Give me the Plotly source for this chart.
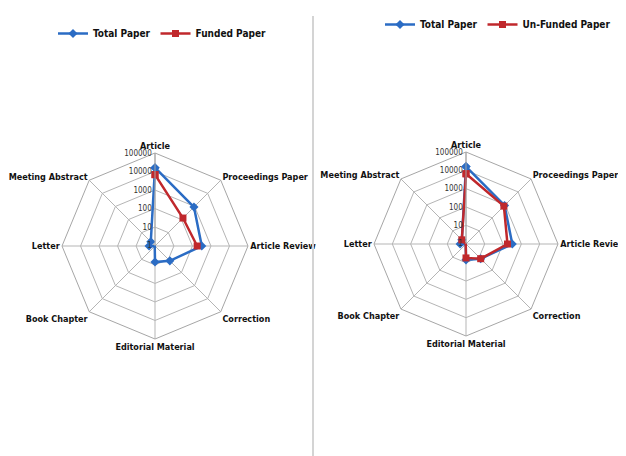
import plotly.graph_objects as go

categories = ["Article", "Proceedings Paper", "Article Review", "Correction",
              "Editorial Material", "Book Chapter", "Letter", "Meeting Abstract"]
total_paper = [16000, 900, 320, 13, 7, 1, 2, 2]
funded_paper = [6800, 130, 180, None, None, None, None, None]
unfunded_paper = [6500, 800, 175, 13, 5.5, 1, 1, 2]
radial_ticks = [1, 10, 100, 1000, 10000, 100000]
radial_tick_labels = ["1", "10", "100", "1000", "10000", "100000"]

BLUE = "#2B6CC4"
RED = "#C0282C"
FONT = "DejaVu Sans Condensed, Liberation Sans Narrow, Roboto, sans-serif"
W, H = 626, 456


def closed(v):
    return list(v) + [v[0]]


theta = closed(categories)

fig = go.Figure()
fig.add_trace(go.Scatterpolar(r=closed(total_paper), theta=theta, name="Total Paper",
                              mode="lines+markers", line=dict(color=BLUE, width=2.5),
                              marker=dict(symbol="diamond", size=7, color=BLUE),
                              subplot="polar", legend="legend"))
fig.add_trace(go.Scatterpolar(r=closed(funded_paper), theta=theta, name="Funded Paper",
                              mode="lines+markers", line=dict(color=RED, width=2.5),
                              marker=dict(symbol="square", size=7, color=RED),
                              subplot="polar", legend="legend"))
fig.add_trace(go.Scatterpolar(r=closed(total_paper), theta=theta, name="Total Paper",
                              mode="lines+markers", line=dict(color=BLUE, width=2.5),
                              marker=dict(symbol="diamond", size=7, color=BLUE),
                              subplot="polar2", legend="legend2"))
fig.add_trace(go.Scatterpolar(r=closed(unfunded_paper), theta=theta, name="Un-Funded Paper",
                              mode="lines+markers", line=dict(color=RED, width=2.5),
                              marker=dict(symbol="square", size=7, color=RED),
                              subplot="polar2", legend="legend2"))


def domain(cx, cy, R):
    return dict(x=[(cx - R) / W, (cx + R) / W], y=[1 - (cy + R) / H, 1 - (cy - R) / H])


def polar_cfg(cx, cy, R):
    return dict(
        domain=domain(cx, cy, R),
        gridshape="linear",
        bgcolor="white",
        angularaxis=dict(direction="clockwise", rotation=90, type="category",
                         categoryorder="array", categoryarray=categories,
                         showline=True, linecolor="#a6a6a6", linewidth=1,
                         gridcolor="#b5b5b5", ticks="",
                         tickfont=dict(family=FONT, size=9, color="#111", weight="bold")),
        radialaxis=dict(type="log", range=[-0.02, 5], tickvals=radial_ticks, ticktext=radial_tick_labels,
                        angle=90, side="counterclockwise", tickangle=90,
                        showline=True, linecolor="#a6a6a6", gridcolor="#b5b5b5", ticks="",
                        tickfont=dict(family=FONT, size=8, color="#333")),
    )


fig.update_layout(
    width=W, height=H,
    margin=dict(l=0, r=0, t=0, b=0),
    paper_bgcolor="white",
    plot_bgcolor="white",
    polar=polar_cfg(147, 238, 93),
    polar2=polar_cfg(458, 236, 92),
    legend=dict(x=45 / W, y=1 - 11 / H, xanchor="left", yanchor="top", orientation="h",
                bgcolor="rgba(0,0,0,0)", font=dict(family=FONT, size=10, color="#111", weight="bold")),
    legend2=dict(x=372 / W, y=1 - 2 / H, xanchor="left", yanchor="top", orientation="h",
                 bgcolor="rgba(0,0,0,0)", font=dict(family=FONT, size=10, color="#111", weight="bold")),
    shapes=[dict(type="line", xref="paper", yref="paper", x0=305 / W, x1=305 / W,
                 y0=0, y1=1 - 8 / H, line=dict(color="#d4d4d4", width=2))],
)

fig.write_html("out.html")
